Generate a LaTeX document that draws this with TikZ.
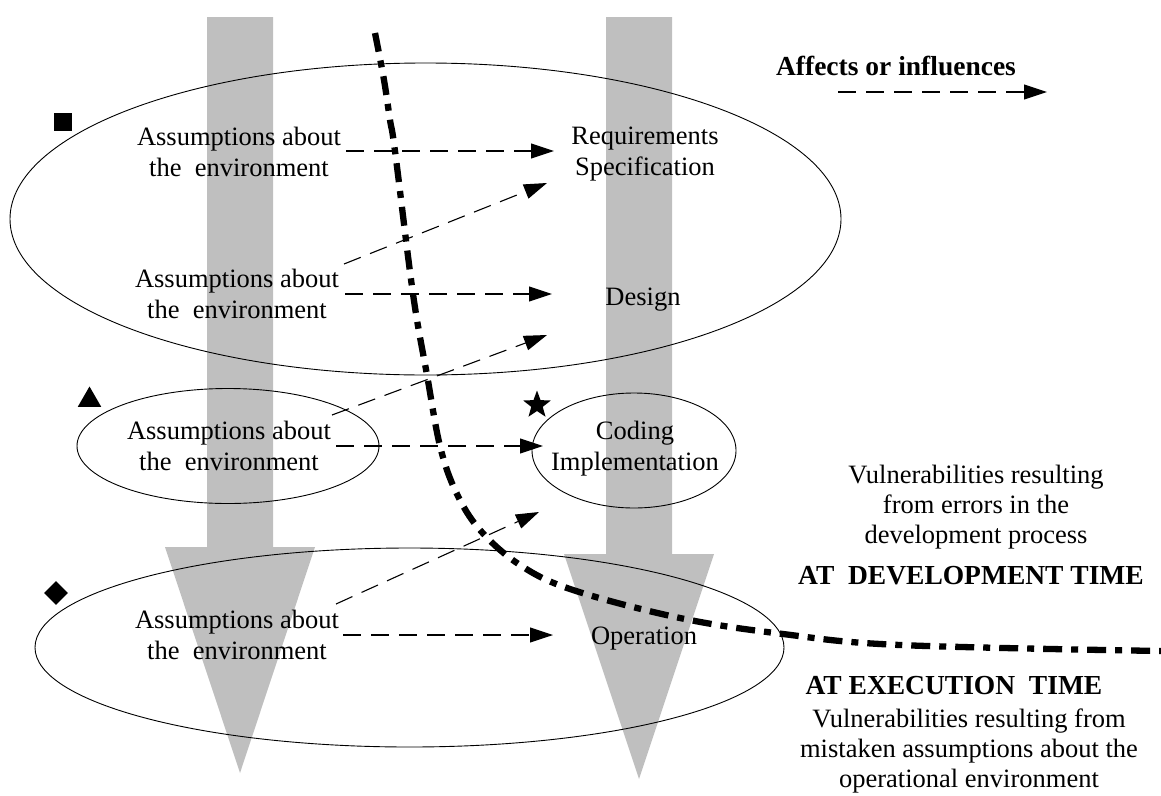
\documentclass[tikz,border=0pt]{standalone}
\usepackage{fontspec}
\setmainfont{Liberation Serif}
\usetikzlibrary{arrows.meta,shapes.geometric}
\definecolor{bandgray}{RGB}{191,191,191}
\begin{document}
\begin{tikzpicture}[x=1pt,y=-1pt,
  lbl/.style={align=center, anchor=base, inner sep=0pt, font=\fontsize{26.5}{31}\selectfont},
  rlbl/.style={align=center, anchor=base, inner sep=0pt, font=\fontsize{26.5}{30}\selectfont},
  blbl/.style={align=center, anchor=base, inner sep=0pt, font=\fontsize{27.5}{31}\selectfont\bfseries},
  aff/.style={line width=1.1pt, dash pattern=on 18pt off 10pt, -{Triangle[length=23pt,width=15pt]}},
  boundary/.style={line width=6.3pt, dash pattern=on 19pt off 9pt on 7pt off 9pt},
  phase/.style={draw, line width=0.9pt},
  band/.style={fill=bandgray},
  symb/.style={fill=black, draw=none, inner sep=0pt}
]
\useasboundingbox (0,0) rectangle (1161,795);

% grey process arrows
\fill[band] (207,17) -- (273,17) -- (273,547) -- (315,547) -- (240,773) -- (165,547) -- (207,547) -- cycle;
\fill[band] (606,17) -- (672,17) -- (672,554) -- (714,554) -- (639,779) -- (564,554) -- (606,554) -- cycle;

% phase ellipses
\draw[phase] (425.5,219) ellipse [x radius=415.5pt, y radius=156pt];
\draw[phase] (228,446) ellipse [x radius=151pt, y radius=57.5pt];
\draw[phase] (634,450.5) ellipse [x radius=102pt, y radius=57.5pt];
\draw[phase] (409.5,647.5) ellipse [x radius=374.5pt, y radius=99.5pt];

% markers
\node[symb, rectangle, minimum size=18pt] (msq) at (62.5,122) {};
\node[symb, regular polygon, regular polygon sides=3, minimum size=27pt] (mtri) at (89.5,400) {};
\node[symb, star, star points=5, star point ratio=2.4, minimum size=29pt] (mstar) at (537,405) {};
\node[symb, diamond, minimum size=24pt] (mdia) at (56,593) {};

% labels (base = baseline of the last line)
\node[lbl] (a1) at (239,176) {Assumptions about\\the~ environment};
\node[lbl] (a2) at (237,318) {Assumptions about\\the~ environment};
\node[lbl] (a3) at (229,470) {Assumptions about\\the~ environment};
\node[lbl] (a4) at (237,659) {Assumptions about\\the~ environment};
\node[lbl] (req) at (645,175) {Requirements\\Specification};
\node[lbl] (des) at (643,305) {Design};
\node[lbl] (cod) at (635,470) {Coding\\Implementation};
\node[lbl] (ope) at (644,644) {Operation};
\node[blbl] (leg) at (896,75) {Affects or influences};
\node[rlbl] (devtxt) at (976,543) {Vulnerabilities resulting\\from errors in the\\development process};
\node[blbl] (devtime) at (971,584) {AT~ DEVELOPMENT TIME};
\node[blbl] (exetime) at (954,694) {AT EXECUTION~ TIME};
\node[rlbl] (exetxt) at (969,787) {Vulnerabilities resulting from\\mistaken assumptions about the\\operational environment};

% arrow end points
\coordinate (s1) at (346,151);  \coordinate (t1) at (554,151);
\coordinate (s2) at (344,264);  \coordinate (t2) at (547,183);
\coordinate (s3) at (345,294);  \coordinate (t3) at (552,294);
\coordinate (s4) at (332,415);  \coordinate (t4) at (547,335);
\coordinate (s5) at (336,446);  \coordinate (t5) at (543,446);
\coordinate (s6) at (336,604);  \coordinate (t6) at (539,512);
\coordinate (s7) at (343,635);  \coordinate (t7) at (553,635);
\coordinate (ls) at (838,92);   \coordinate (lt) at (1047,92);

\draw[aff] (s1) -- (t1);
\draw[aff] (s2) -- (t2);
\draw[aff] (s3) -- (t3);
\draw[aff] (s4) -- (t4);
\draw[aff] (s5) -- (t5);
\draw[aff] (s6) -- (t6);
\draw[aff] (s7) -- (t7);
\draw[aff] (ls) -- (lt);

% development / execution boundary
\draw[boundary] plot[smooth, tension=0.6] coordinates {(375,33) (384,80) (390,120) (395,151) (413,294) (427,375) (440,446) (456,492) (480,530) (520,565) (573,590) (680,618) (783,634) (900,645) (1161,651)};
\end{tikzpicture}
\end{document}
